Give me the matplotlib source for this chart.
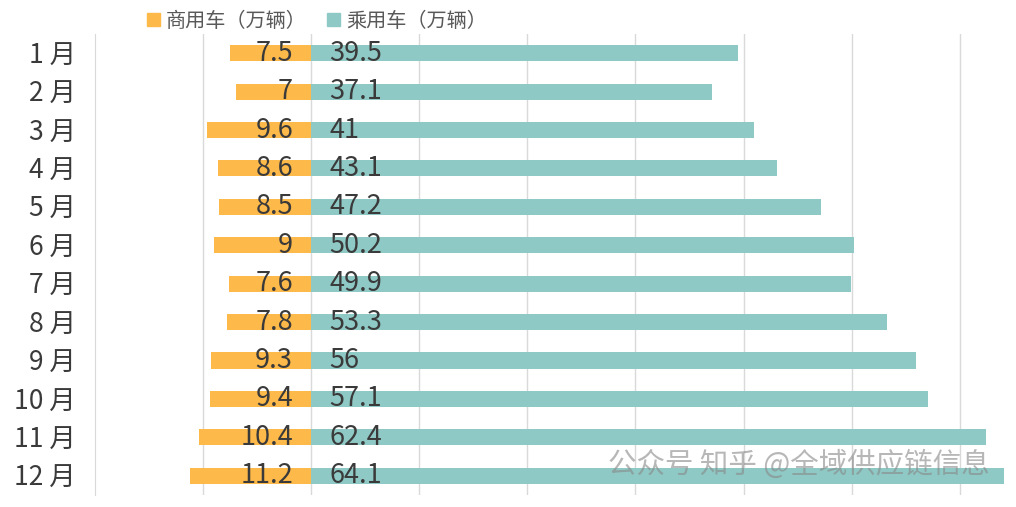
import matplotlib.pyplot as plt
from matplotlib.patches import Patch

plt.rcParams['font.family'] = ['Noto Sans CJK SC', 'DejaVu Sans']

# данные
months = ['1 月', '2 月', '3 月', '4 月', '5 月', '6 月',
          '7 月', '8 月', '9 月', '10 月', '11 月', '12 月']
commercial = [7.5, 7, 9.6, 8.6, 8.5, 9, 7.6, 7.8, 9.3, 9.4, 10.4, 11.2]
passenger = [39.5, 37.1, 41, 43.1, 47.2, 50.2, 49.9, 53.3, 56, 57.1, 62.4, 64.1]
series_names = ['商用车（万辆）', '乘用车（万辆）']

c_orange = '#FDB94A'
c_teal = '#8FC9C5'
c_text = '#3A3A3A'

fig = plt.figure(figsize=(10.16, 5.07), dpi=100)
ax = fig.add_axes([0.0935, 0.0237, 0.9, 0.9093])

y = list(range(len(months)))
ax.barh(y, [-v for v in commercial], height=0.42, color=c_orange, zorder=2)
ax.barh(y, passenger, height=0.42, color=c_teal, zorder=2)

for i in y:
    ax.annotate(f'{commercial[i]:g}', (0, i), xytext=(-13, 0), textcoords='offset points',
                ha='right', va='center', fontsize=19.5, color=c_text, zorder=3)
    ax.annotate(f'{passenger[i]:g}', (0, i), xytext=(13, 0), textcoords='offset points',
                ha='left', va='center', fontsize=19.5, color=c_text, zorder=3)

ax.set_xlim(-20, 64.6)
ax.set_ylim(11.5, -0.5)
ax.set_xticks(range(-10, 61, 10))
ax.set_xticklabels([])
ax.tick_params(axis='x', length=0)
ax.grid(axis='x', color='#D9D9D9', linewidth=1, zorder=0)

ax.set_yticks(y)
ax.set_yticklabels(months, fontsize=19, color=c_text)
ax.tick_params(axis='y', length=0, pad=14)

for s in ['top', 'right', 'bottom']:
    ax.spines[s].set_visible(False)
ax.spines['left'].set_color('#D9D9D9')

handles = [Patch(color=c_orange), Patch(color=c_teal)]
fig.legend(handles, series_names, loc='upper center', bbox_to_anchor=(0.312, 1.015),
           ncol=2, frameon=False, fontsize=14.5, labelcolor='#595959',
           handlelength=0.65, handleheight=0.65, handletextpad=0.3, columnspacing=1.0)

# водяной знак
fig.text(0.598, 0.083, '公众号 知乎 @全域供应链信息', fontsize=20.5, color='#888888',
         alpha=0.6, ha='left', va='center')

plt.savefig('out.png', dpi=100)
